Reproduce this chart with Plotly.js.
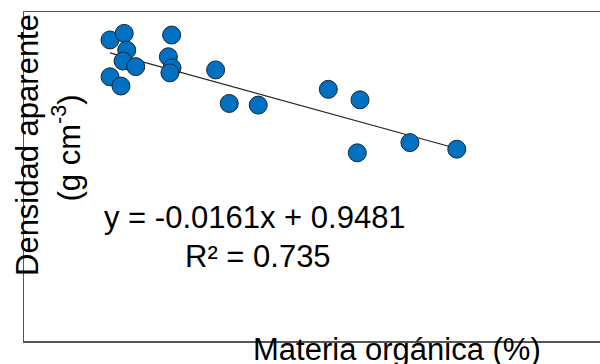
<!DOCTYPE html>
<html>
<head>
<meta charset="utf-8">
<script src="https://cdn.plot.ly/plotly-3.0.1.min.js"></script>
<style>html,body{margin:0;padding:0;overflow:hidden;background:#fff;}</style>
</head>
<body>
<div id="chart" style="width:600px;height:364px;"></div>
<script>
// Materia orgánica (%) and Densidad aparente (g cm-3)
var materiaOrganica = [4.48, 5.22, 5.35, 5.16, 5.82, 4.48, 5.05, 7.69, 7.52, 7.71, 7.60, 9.98, 10.69, 12.20, 15.85, 17.50, 17.36, 20.10, 22.54];
var densidadAparente = [0.915, 0.935, 0.884, 0.851, 0.834, 0.803, 0.775, 0.930, 0.864, 0.830, 0.815, 0.824, 0.722, 0.717, 0.765, 0.733, 0.572, 0.603, 0.583];
// Linear trend line coefficients shown on the chart
var trendSlope = -0.0161;
var trendIntercept = 0.9481;
var r2Value = 0.735;
var xRange = [0, 30];
var yRange = [0, 1];

var xMin = Math.min.apply(null, materiaOrganica);
var xMax = Math.max.apply(null, materiaOrganica);
var trendX = [xMin, xMax];
var trendY = trendX.map(function (v) { return trendSlope * v + trendIntercept; });

var font = "Arial, 'Liberation Sans', sans-serif";

var traces = [
  {
    x: trendX, y: trendY, type: 'scatter', mode: 'lines',
    line: {color: '#262626', width: 1.2}, hoverinfo: 'skip'
  },
  {
    x: materiaOrganica, y: densidadAparente, type: 'scatter', mode: 'markers',
    marker: {size: 18, color: '#0070C0', line: {color: '#1a2535', width: 1}}
  }
];

var axisCommon = {
  showgrid: false, zeroline: false, showticklabels: false, ticks: '',
  showline: true, linecolor: '#555555', linewidth: 1.5, mirror: true, fixedrange: true
};

var layout = {
  width: 600, height: 364,
  margin: {l: 24, r: 0, t: 12, b: 23},
  paper_bgcolor: '#ffffff', plot_bgcolor: '#ffffff',
  showlegend: false, hovermode: false,
  font: {family: font, color: '#000000', size: 31},
  xaxis: Object.assign({range: xRange}, axisCommon),
  yaxis: Object.assign({range: yRange}, axisCommon),
  annotations: [
    {text: 'y = ' + trendSlope.toFixed(4) + 'x + ' + trendIntercept.toFixed(4),
     xref: 'paper', yref: 'paper', x: (255 - 24) / 576, y: (341 - 218) / 329,
     xanchor: 'center', yanchor: 'middle', showarrow: false, font: {size: 31, family: font}},
    {text: 'R² = ' + r2Value.toFixed(3),
     xref: 'paper', yref: 'paper', x: (258 - 24) / 576, y: (341 - 256.5) / 329,
     xanchor: 'center', yanchor: 'middle', showarrow: false, font: {size: 31, family: font}},
    {text: 'Densidad aparente',
     xref: 'paper', yref: 'paper', x: (27 - 24) / 576, y: (341 - 145) / 329,
     xanchor: 'center', yanchor: 'middle', textangle: -90, showarrow: false, font: {size: 31, family: font}},
    {text: '(g cm<sup>-3</sup>)',
     xref: 'paper', yref: 'paper', x: (66 - 24) / 576, y: (341 - 148.5) / 329,
     xanchor: 'center', yanchor: 'middle', textangle: -90, showarrow: false, font: {size: 31, family: font}},
    {text: 'Materia orgánica (%)',
     xref: 'paper', yref: 'paper', x: (397 - 24) / 576, y: (341 - 349) / 329,
     xanchor: 'center', yanchor: 'middle', showarrow: false, font: {size: 31, family: font}}
  ]
};

Plotly.newPlot('chart', traces, layout, {displayModeBar: false, staticPlot: true});
</script>
</body>
</html>
